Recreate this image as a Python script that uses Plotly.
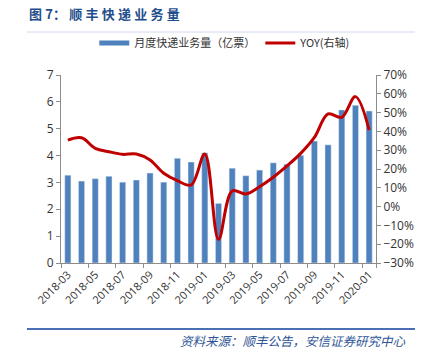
import plotly.graph_objects as go

months = ["2018-03","2018-04","2018-05","2018-06","2018-07","2018-08","2018-09","2018-10",
          "2018-11","2018-12","2019-01","2019-02","2019-03","2019-04","2019-05","2019-06",
          "2019-07","2019-08","2019-09","2019-10","2019-11","2019-12","2020-01"]
volume = [3.27, 3.05, 3.14, 3.23, 3.01, 3.09, 3.35, 3.01, 3.90, 3.76, 4.10,
          2.22, 3.53, 3.25, 3.46, 3.73, 3.68, 4.01, 4.54, 4.40, 5.70, 5.87, 5.66]
yoy = [0.354, 0.366, 0.31, 0.292, 0.278, 0.28, 0.248, 0.177, 0.138, 0.115, 0.28,
       -0.174, 0.083, 0.067, 0.106, 0.156, 0.216, 0.283, 0.368, 0.493, 0.475, 0.585, 0.407]
tick_labels = months[::2]

font_main = "Open Sans, Noto Sans CJK SC, sans-serif"
cjk = "Noto Sans CJK SC, sans-serif"
bar_color = "#4F81BD"
line_color = "#C00000"

fig = go.Figure()
fig.add_trace(go.Bar(x=months, y=volume, name="月度快递业务量（亿票）",
                     marker_color=bar_color, yaxis="y", showlegend=False))
# legend-only swatch drawn as a flat rectangle (like the reference legend key)
fig.add_trace(go.Scatter(x=[months[0]], y=[None], name="月度快递业务量（亿票）", mode="lines",
                         line=dict(color=bar_color, width=5), yaxis="y", hoverinfo="skip"))
fig.add_trace(go.Scatter(x=months, y=yoy, name="YOY(右轴)", mode="lines",
                         line=dict(color=line_color, width=3, shape="spline", smoothing=1),
                         yaxis="y2"))

axis_line = "#8C8C8C"
fig.update_layout(
    width=429, height=353,
    margin=dict(l=61, r=53, t=75, b=90),
    paper_bgcolor="white", plot_bgcolor="white",
    bargap=0.55,
    showlegend=True,
    legend=dict(orientation="h", x=0.52, xanchor="center", y=1.17, yanchor="middle",
                font=dict(family=cjk, size=11, color="#333333"),
                bgcolor="rgba(0,0,0,0)", traceorder="normal"),
    xaxis=dict(type="category", tickmode="array", tickvals=tick_labels, ticktext=tick_labels,
               tickson="boundaries", tickangle=-45, ticks="outside", ticklen=4,
               tickcolor=axis_line, showline=True, linecolor=axis_line, showgrid=False,
               tickfont=dict(family=font_main, size=11, color="#333333")),
    yaxis=dict(range=[0, 7], dtick=1, showgrid=False, showline=True, linecolor=axis_line,
               ticks="outside", ticklen=4, tickcolor=axis_line, zeroline=False,
               tickfont=dict(family=font_main, size=12, color="#333333")),
    yaxis2=dict(range=[-0.3, 0.7], dtick=0.1, tickformat=".0%", overlaying="y", side="right",
                showgrid=False, showline=True, linecolor=axis_line, ticks="outside",
                ticklen=4, tickcolor=axis_line, zeroline=False,
                tickfont=dict(family=font_main, size=12, color="#333333")),
)

fig.add_annotation(text="<b>图\u20057：\u2005顺\u2005丰\u2005快\u2005递\u2005业\u2005务\u2005量</b>",
                   xref="paper", yref="paper", x=(27 - 61) / 315, y=1 + (75 - 13) / 188,
                   xanchor="left", yanchor="middle", showarrow=False,
                   font=dict(family=cjk, size=13, color="#1F4E8C"))
fig.add_annotation(text="<i>资料来源：顺丰公告，安信证券研究中心</i>",
                   xref="paper", yref="paper", x=(408 - 61) / 315, y=-(340 - 263) / 188,
                   xanchor="right", yanchor="middle", showarrow=False,
                   font=dict(family=cjk, size=12.5, color="#2F5597"))

fig.add_shape(type="line", xref="paper", yref="paper",
              x0=(27 - 61) / 315, x1=(415 - 61) / 315,
              y0=1 + (75 - 32) / 188, y1=1 + (75 - 32) / 188,
              line=dict(color="#D0DAEA", width=1))
fig.add_shape(type="line", xref="paper", yref="paper",
              x0=(27 - 61) / 315, x1=(415 - 61) / 315,
              y0=-(329 - 263) / 188, y1=-(329 - 263) / 188,
              line=dict(color="#4A6FB5", width=2))

fig.write_html("out.html")
